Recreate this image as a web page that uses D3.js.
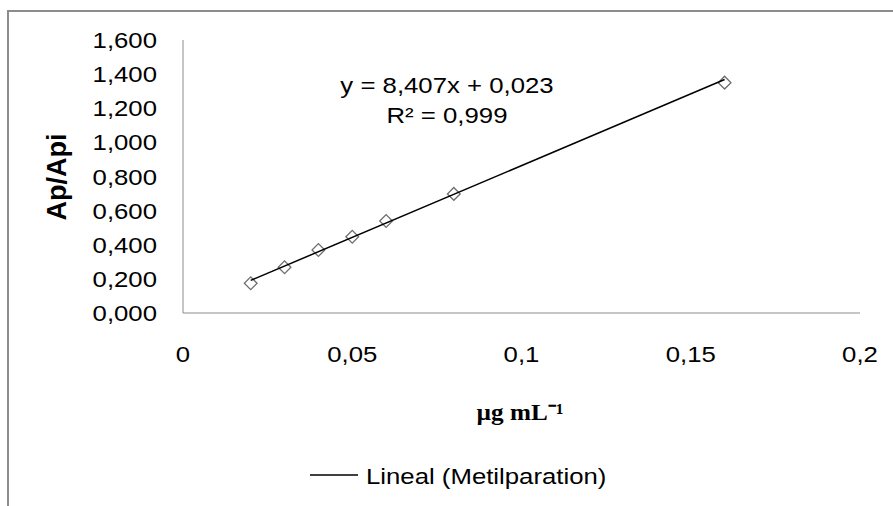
<!DOCTYPE html>
<html>
<head>
<meta charset="utf-8">
<script src="https://cdn.jsdelivr.net/npm/d3@7"></script>
<style>
  body { margin: 0; background: #fff; }
  text { font-family: "Liberation Sans", Arial, sans-serif; fill: #000; }
</style>
</head>
<body>
<script>
// data
const conc = [0.02, 0.03, 0.04, 0.05, 0.06, 0.08, 0.16];
const ratio = [0.174, 0.268, 0.369, 0.447, 0.539, 0.698, 1.350];
const slope = 8.407, intercept = 0.023;
const xTicks = [0, 0.05, 0.1, 0.15, 0.2];
const yTicks = [0, 0.2, 0.4, 0.6, 0.8, 1.0, 1.2, 1.4, 1.6];
const eqLines = ["y = 8,407x + 0,023", "R² = 0,999"];
const legendLabel = "Lineal (Metilparation)";

const width = 893, height = 506;
const svg = d3.select("body").append("svg")
    .attr("width", width)
    .attr("height", height);

// outer frame (top + left edges visible)
svg.append("path")
    .attr("d", "M8,506V11H893")
    .attr("fill", "none")
    .attr("stroke", "#8c8c8c")
    .attr("stroke-width", 2);

const x = d3.scaleLinear().domain([0, 0.2]).range([183, 860]);
const y = d3.scaleLinear().domain([0, 1.6]).range([313, 40]);

const comma = s => s.replace(".", ",");
const sx = 1.12; // text in the picture is a bit wide

function label(g, tx, ty, str, anchor, size, weight) {
    return g.append("text")
        .attr("transform", `translate(${tx},${ty}) scale(${sx},1)`)
        .attr("text-anchor", anchor)
        .attr("font-size", size)
        .attr("font-weight", weight || "normal")
        .text(str);
}

// axes lines
svg.append("line")
    .attr("x1", x(0)).attr("x2", x(0))
    .attr("y1", y(1.6)).attr("y2", y(0))
    .attr("stroke", "#8c8c8c");
svg.append("line")
    .attr("x1", x(0)).attr("x2", x(0.2))
    .attr("y1", y(0)).attr("y2", y(0))
    .attr("stroke", "#8c8c8c");

// tick labels
yTicks.forEach(v => {
    label(svg, 157, y(v) + 8, comma(d3.format(".3f")(v)), "end", 23);
});
xTicks.forEach(v => {
    label(svg, x(v), 362, comma(String(v)), "middle", 23);
});

// axis titles
svg.append("text")
    .attr("transform", `translate(66,177) rotate(-90)`)
    .attr("text-anchor", "middle")
    .attr("font-size", 27)
    .attr("font-weight", "bold")
    .text("Ap/Api");

svg.append("text")
    .attr("transform", `translate(520,420) scale(1.05,1)`)
    .attr("text-anchor", "middle")
    .style("font-family", "'Liberation Serif', 'Times New Roman', serif")
    .attr("font-size", 24)
    .attr("font-weight", "bold")
    .text("µg mL⁻¹");

// markers
const pts = conc.map((c, i) => ({x: c, y: ratio[i]}));
svg.selectAll(".pt")
    .data(pts)
    .enter()
    .append("rect")
    .attr("class", "pt")
    .attr("x", -4.5).attr("y", -4.5)
    .attr("width", 9).attr("height", 9)
    .attr("transform", d => `translate(${x(d.x)},${y(d.y)}) rotate(45)`)
    .attr("fill", "#fff")
    .attr("stroke", "#6e6e6e")
    .attr("stroke-width", 1.3);

// trend line
const xs = d3.extent(conc);
svg.append("line")
    .attr("x1", x(xs[0])).attr("y1", y(slope * xs[0] + intercept))
    .attr("x2", x(xs[1])).attr("y2", y(slope * xs[1] + intercept))
    .attr("stroke", "#000")
    .attr("stroke-width", 1.5);

// equation
eqLines.forEach((s, i) => {
    label(svg, 447, 93 + i * 30, s, "middle", 23);
});

// legend
svg.append("line")
    .attr("x1", 310).attr("x2", 358)
    .attr("y1", 475).attr("y2", 475)
    .attr("stroke", "#000")
    .attr("stroke-width", 1.3);
label(svg, 366, 484, legendLabel, "start", 23);
</script>
</body>
</html>
